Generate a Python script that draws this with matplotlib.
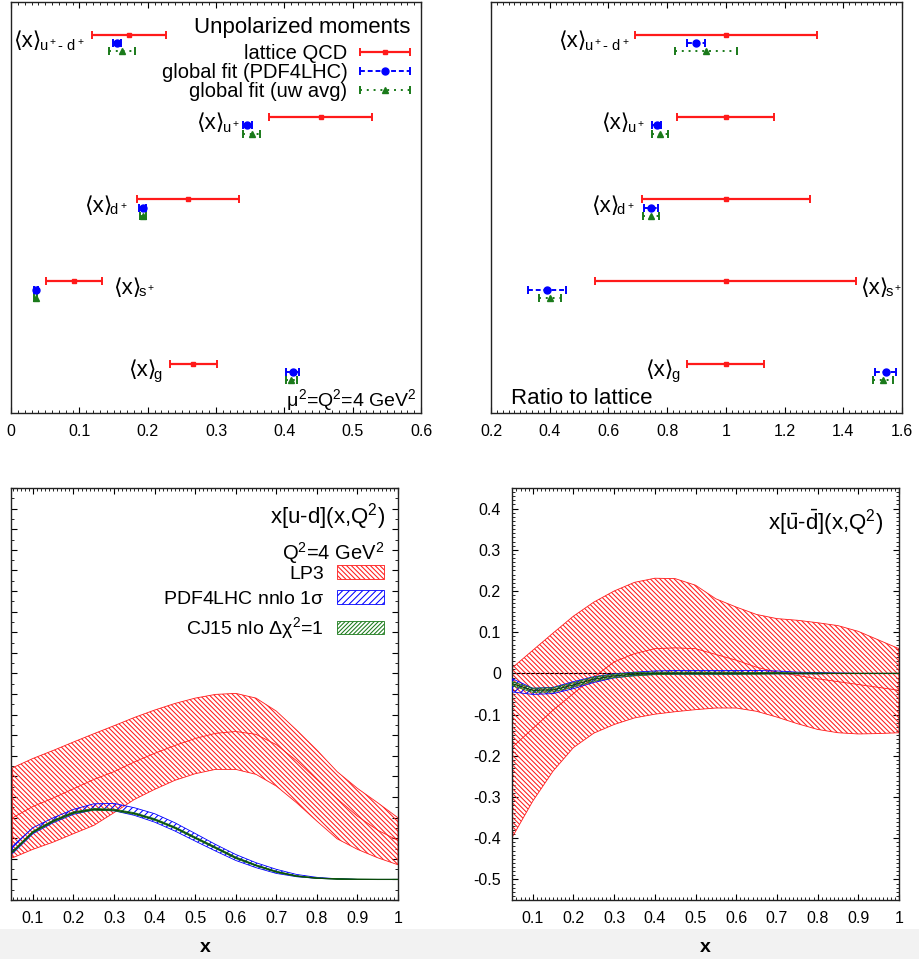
import matplotlib
matplotlib.use("Agg")
import numpy as np
import matplotlib.pyplot as plt
from matplotlib.ticker import MultipleLocator, FuncFormatter, NullFormatter
from matplotlib.patches import Rectangle
from matplotlib.container import ErrorbarContainer
from matplotlib.legend_handler import HandlerErrorbar
from matplotlib.transforms import ScaledTranslation

plt.rcParams['font.family'] = ['Liberation Sans', 'DejaVu Sans']
plt.rcParams['mathtext.fontset'] = 'custom'
plt.rcParams['mathtext.rm'] = 'Liberation Sans'
plt.rcParams['mathtext.it'] = 'Liberation Sans'
plt.rcParams['mathtext.bf'] = 'Liberation Sans:bold'
plt.rcParams['mathtext.sf'] = 'Liberation Sans'
plt.rcParams['axes.unicode_minus'] = False
plt.rcParams['hatch.linewidth'] = 0.75

# ---- top panels: moments ----
moment_subs = [r'$_{u^+\text{-}\ d^+}$', r'$_{u^+}$', r'$_{d^+}$', r'$_{s^+}$', r'$_{g}$']
rows = np.array([5, 4, 3, 2, 1])

lat_val = [0.173, 0.453, 0.259, 0.092, 0.267]
lat_err = [0.054, 0.075, 0.075, 0.041, 0.035]
pdf_val = [0.155, 0.346, 0.193, 0.036, 0.412]
pdf_err = [0.006, 0.006, 0.005, 0.003, 0.010]
uw_val = [0.162, 0.352, 0.193, 0.036, 0.410]
uw_err = [0.019, 0.012, 0.004, 0.002, 0.008]

ratio_lat = [1.0, 1.0, 1.0, 1.0, 1.0]
ratio_lat_err = [0.31, 0.165, 0.285, 0.445, 0.131]
ratio_pdf = [0.898, 0.765, 0.745, 0.391, 1.545]
ratio_pdf_err = [0.030, 0.015, 0.025, 0.066, 0.036]
ratio_uw = [0.932, 0.776, 0.745, 0.401, 1.535]
ratio_uw_err = [0.105, 0.028, 0.026, 0.036, 0.033]

# label anchors (x in data units), alignment
left_lab_x = [0.108, 0.335, 0.171, 0.149, 0.222]
right_lab_x = [0.673, 0.724, 0.690, 1.457, 0.844]
lab_ha = ['right', 'right', 'right', 'left', 'right']

# ---- bottom panels: PDFs ----
xg = [0.05, 0.1, 0.15, 0.2, 0.25, 0.3, 0.35, 0.4, 0.45, 0.5,
      0.55, 0.6, 0.65, 0.7, 0.75, 0.8, 0.85, 0.9, 0.95, 1.0]

# x[u-d]
lp3_ud_hi = [0.542, 0.587, 0.626, 0.667, 0.707, 0.746, 0.786, 0.822, 0.854, 0.880,
             0.898, 0.903, 0.880, 0.817, 0.725, 0.628, 0.523, 0.442, 0.372, 0.299]
lp3_ud_mid = [0.299, 0.354, 0.395, 0.440, 0.485, 0.523, 0.570, 0.612, 0.650, 0.684,
              0.709, 0.718, 0.704, 0.654, 0.576, 0.485, 0.392, 0.307, 0.239, 0.189]
lp3_ud_lo = [0.105, 0.146, 0.181, 0.222, 0.262, 0.324, 0.388, 0.437, 0.481, 0.513,
             0.534, 0.534, 0.510, 0.453, 0.372, 0.283, 0.197, 0.146, 0.105, 0.071]
pdf_ud_hi = [0.162, 0.251, 0.299, 0.340, 0.367, 0.369, 0.348, 0.319, 0.275, 0.223,
             0.170, 0.121, 0.081, 0.049, 0.024, 0.010, 0.003, 0.0, 0.0, 0.0]
pdf_ud_lo = [0.126, 0.222, 0.275, 0.316, 0.337, 0.333, 0.311, 0.278, 0.235, 0.186,
             0.138, 0.092, 0.057, 0.029, 0.013, 0.005, 0.002, 0.0, 0.0, 0.0]
cj_ud_hi = [0.138, 0.234, 0.287, 0.328, 0.344, 0.341, 0.324, 0.295, 0.255, 0.206,
            0.158, 0.109, 0.071, 0.040, 0.018, 0.007, 0.003, 0.001, 0.0, 0.0]
cj_ud_lo = [0.130, 0.226, 0.279, 0.320, 0.336, 0.333, 0.316, 0.287, 0.247, 0.198,
            0.150, 0.101, 0.065, 0.034, 0.014, 0.005, 0.001, 0.0, 0.0, 0.0]

# x[ubar-dbar]
lp3_ub_hi = [0.014, 0.056, 0.098, 0.139, 0.173, 0.200, 0.221, 0.231, 0.230, 0.214,
             0.181, 0.161, 0.143, 0.133, 0.129, 0.123, 0.116, 0.102, 0.081, 0.060]
lp3_ub_mid = [-0.179, -0.134, -0.089, -0.049, -0.009, 0.028, 0.048, 0.060, 0.062, 0.060,
              0.046, 0.032, 0.015, 0.003, -0.005, -0.013, -0.020, -0.027, -0.034, -0.041]
lp3_ub_lo = [-0.397, -0.310, -0.237, -0.180, -0.145, -0.124, -0.108, -0.099, -0.093, -0.088,
             -0.084, -0.084, -0.092, -0.106, -0.122, -0.136, -0.144, -0.147, -0.146, -0.144]
pdf_ub_hi = [-0.013, -0.036, -0.034, -0.020, -0.008, -0.001, 0.003, 0.006, 0.007, 0.007,
             0.007, 0.007, 0.007, 0.006, 0.003, 0.002, 0.001, 0.0, 0.0, 0.0]
pdf_ub_lo = [-0.045, -0.051, -0.049, -0.037, -0.022, -0.011, -0.005, -0.002, -0.002, -0.002,
             -0.002, -0.002, -0.001, -0.001, -0.001, -0.001, 0.0, 0.0, 0.0, 0.0]
cj_ub_hi = [-0.020, -0.036, -0.035, -0.023, -0.009, -0.002, 0.002, 0.003, 0.003, 0.003,
            0.003, 0.003, 0.002, 0.002, 0.001, 0.001, 0.0, 0.0, 0.0, 0.0]
cj_ub_lo = [-0.030, -0.046, -0.045, -0.033, -0.019, -0.010, -0.006, -0.003, -0.002, -0.002,
            -0.002, -0.002, -0.002, -0.001, -0.001, -0.001, 0.0, 0.0, 0.0, 0.0]

RED = '#ff1a1a'
BLUE = '#0000ff'
GREEN = '#1a7a1a'

label_pairs = []  # (ax, main text, sub text, ha) -> joined after a draw


def fmt_tick(v, _):
    return '%g' % (round(v, 6) + 0.0)


def style_axes(ax):
    for s in ax.spines.values():
        s.set_linewidth(1.0)
        s.set_color('#222222')
    ax.xaxis.set_major_formatter(FuncFormatter(fmt_tick))
    ax.yaxis.set_major_formatter(FuncFormatter(fmt_tick))


def moment_panel(ax, lat, lerr, pdf, perr, uw, uerr, lab_x):
    e1 = ax.errorbar(lat, rows, xerr=lerr, fmt='s', ms=3.5, color=RED, lw=1.6,
                     capsize=3, capthick=1.4)
    e2 = ax.errorbar(pdf, rows - 0.1, xerr=perr, fmt='o', ms=5, color=BLUE, lw=1.4,
                     capsize=3, capthick=1.4)
    e2[2][0].set_linestyle((0, (2.5, 1.5)))
    e3 = ax.errorbar(uw, rows - 0.2, xerr=uerr, fmt='^', ms=5, color=GREEN, lw=1.4,
                     capsize=3, capthick=1.4)
    e3[2][0].set_linestyle((0, (1, 2.5)))
    for sub, x, y, ha in zip(moment_subs, lab_x, rows - 0.15, lab_ha):
        m = ax.text(x, y, '\u27e8x\u27e9', ha=ha, va='baseline', fontsize=16,
                    family=['Liberation Sans', 'DejaVu Sans'])
        s = ax.text(x, y, sub, ha=ha, va='baseline', fontsize=15)
        label_pairs.append((ax, m, s, ha))
    ax.set_ylim(0.4, 5.4)
    ax.set_yticks([])
    ax.tick_params(axis='x', which='both', direction='in', top=True, bottom=True,
                   labelsize=11.5, pad=8)
    ax.tick_params(axis='x', which='major', length=4)
    ax.tick_params(axis='x', which='minor', length=2)
    style_axes(ax)
    return e1, e2, e3


fig = plt.figure(figsize=(9.19, 9.59), dpi=100)
fig.patches.append(Rectangle((0, 0), 1, 30 / 959, transform=fig.transFigure,
                             facecolor='#f2f2f2', edgecolor='none', zorder=-5))

ax1 = fig.add_axes([11 / 919, 1 - 413 / 959, 410 / 919, 411 / 959])
ax2 = fig.add_axes([491 / 919, 1 - 413 / 959, 411 / 919, 411 / 959])
ax3 = fig.add_axes([11 / 919, 1 - 900 / 959, 387 / 919, 412 / 959])
ax4 = fig.add_axes([512 / 919, 1 - 900 / 959, 387 / 919, 412 / 959])

# top left
h = moment_panel(ax1, lat_val, lat_err, pdf_val, pdf_err, uw_val, uw_err, left_lab_x)
ax1.set_xlim(0, 0.6)
ax1.xaxis.set_major_locator(MultipleLocator(0.1))
ax1.xaxis.set_minor_locator(MultipleLocator(0.01))
ax1.text(0.973, 0.937, 'Unpolarized moments', transform=ax1.transAxes, ha='right',
         va='center', fontsize=16)
ax1.legend(h, ['lattice QCD', 'global fit (PDF4LHC)', 'global fit (uw avg)'],
           loc='upper right', bbox_to_anchor=(0.973, 0.897), frameon=False,
           fontsize=14.5, markerfirst=False, handlelength=2.5,
           handletextpad=0.6, labelspacing=0.0, borderpad=0, borderaxespad=0,
           handler_map={ErrorbarContainer: HandlerErrorbar(xerr_size=1.25)})
ax1.text(0.594, 0.49, r'$\mu^2$=Q$^2$=4 GeV$^2$', ha='right', va='baseline', fontsize=14)

# top right
moment_panel(ax2, ratio_lat, ratio_lat_err, ratio_pdf, ratio_pdf_err,
             ratio_uw, ratio_uw_err, right_lab_x)
ax2.set_xlim(0.2, 1.6)
ax2.xaxis.set_major_locator(MultipleLocator(0.2))
ax2.xaxis.set_minor_locator(MultipleLocator(0.02))
ax2.text(0.268, 0.51, 'Ratio to lattice', ha='left', va='baseline', fontsize=16)


def pdf_panel(ax, lo1, mid1, hi1, lo2, hi2, lo3, hi3):
    r = ax.fill_between(xg, lo1, hi1, facecolor='none', edgecolor=RED, hatch='\\' * 7,
                        lw=0.6, zorder=2)
    ax.plot(xg, mid1, color=RED, lw=0.6, zorder=2)
    b = ax.fill_between(xg, lo2, hi2, facecolor='none', edgecolor=BLUE, hatch='/' * 5,
                        lw=0.6, zorder=3)
    g = ax.fill_between(xg, lo3, hi3, facecolor='none', edgecolor=GREEN, hatch='/' * 8,
                        lw=0.6, zorder=4)
    ax.plot(xg, (np.array(lo3) + np.array(hi3)) / 2, color='#0a4a0a', lw=0.9, zorder=4)
    ax.xaxis.set_major_locator(MultipleLocator(0.1))
    ax.xaxis.set_minor_locator(MultipleLocator(0.01))
    ax.tick_params(which='both', direction='in', top=True, bottom=True, left=True,
                   right=True, labelsize=11.5, pad=8)
    ax.tick_params(which='major', length=4)
    ax.tick_params(which='minor', length=2)
    style_axes(ax)
    return r, b, g


# bottom left
hb = pdf_panel(ax3, lp3_ud_lo, lp3_ud_mid, lp3_ud_hi, pdf_ud_lo, pdf_ud_hi, cj_ud_lo, cj_ud_hi)
ax3.set_xlim(0.046, 1.0)
ax3.set_ylim(-0.1, 1.9)
ax3.yaxis.set_major_locator(MultipleLocator(0.1))
ax3.yaxis.set_minor_locator(MultipleLocator(0.05))
ax3.yaxis.set_major_formatter(NullFormatter())
ax3.text(0.966, 0.930, r'x[u-d](x,Q$^2$)', transform=ax3.transAxes, ha='right',
         va='center', fontsize=16)
ax3.text(0.966, 0.843, r'Q$^2$=4 GeV$^2$', transform=ax3.transAxes, ha='right',
         va='center', fontsize=14.5)
ax3.legend(hb, ['LP3', r'PDF4LHC nnlo 1$\sigma$', r'CJ15 nlo $\Delta\chi^2$=1'],
           loc='upper right', bbox_to_anchor=(0.964, 0.812), frameon=False,
           markerfirst=False, fontsize=14, handlelength=2.4, handleheight=0.7,
           handletextpad=0.7, labelspacing=0.38, borderpad=0, borderaxespad=0)

# bottom right
ax4.axhline(0, color='k', lw=0.8, zorder=1)
pdf_panel(ax4, lp3_ub_lo, lp3_ub_mid, lp3_ub_hi, pdf_ub_lo, pdf_ub_hi, cj_ub_lo, cj_ub_hi)
ax4.set_xlim(0.049, 1.0)
ax4.set_ylim(-0.55, 0.45)
ax4.yaxis.set_major_locator(MultipleLocator(0.1))
ax4.yaxis.set_minor_locator(MultipleLocator(0.01))
ax4.text(0.959, 0.917, r'x[$\bar{u}$-$\bar{d}$](x,Q$^2$)', transform=ax4.transAxes,
         ha='right', va='center', fontsize=16)

fig.text(205 / 919, 1 - 947 / 959, 'x', ha='center', va='center', fontsize=14,
         fontweight='bold')
fig.text(705 / 919, 1 - 947 / 959, 'x', ha='center', va='center', fontsize=14,
         fontweight='bold')

# join "<x>" with its subscript
fig.canvas.draw()
renderer = fig.canvas.get_renderer()
GAP = 3  # px of blank lead-in in the subscript-only mathtext
for ax, m, s, ha in label_pairs:
    if ha == 'right':
        w = s.get_window_extent(renderer).width - GAP
        m.set_transform(ax.transData + ScaledTranslation(-w / fig.dpi, 0, fig.dpi_scale_trans))
    else:
        w = m.get_window_extent(renderer).width - GAP
        s.set_transform(ax.transData + ScaledTranslation(w / fig.dpi, 0, fig.dpi_scale_trans))

fig.savefig('out.png', dpi=100)
